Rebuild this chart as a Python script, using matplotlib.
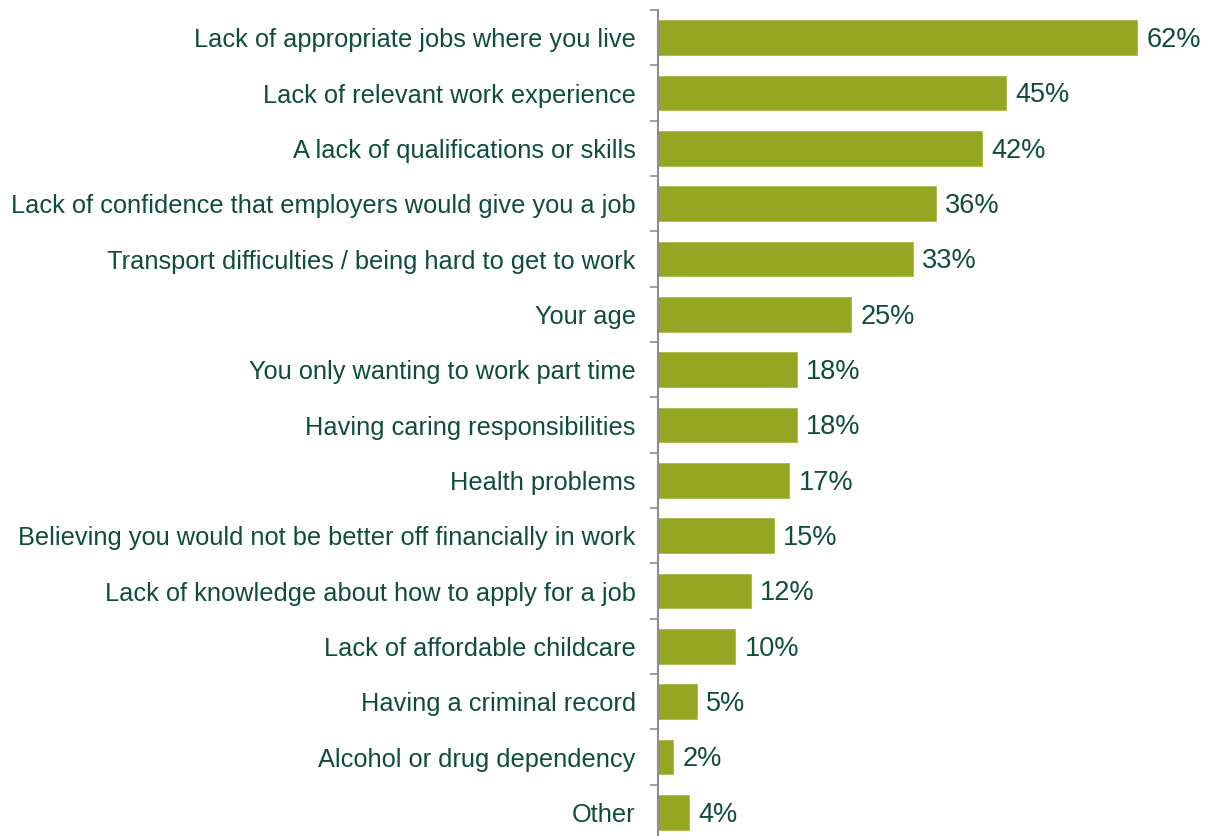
import numpy as np
import matplotlib.pyplot as plt

reasons = [
    "Lack of appropriate jobs where you live",
    "Lack of relevant work experience",
    "A lack of qualifications or skills",
    "Lack of confidence that employers would give you a job",
    "Transport difficulties / being hard to get to work",
    "Your age",
    "You only wanting to work part time",
    "Having caring responsibilities",
    "Health problems",
    "Believing you would not be better off financially in work",
    "Lack of knowledge about how to apply for a job",
    "Lack of affordable childcare",
    "Having a criminal record",
    "Alcohol or drug dependency",
    "Other",
]
share = [62, 45, 42, 36, 33, 25, 18, 18, 17, 15, 12, 10, 5, 2, 4]

bar_col = "#94A622"
txt_col = "#0E4D3C"

plt.rcParams["font.family"] = ["Liberation Sans", "DejaVu Sans"]

fig = plt.figure(figsize=(12.08, 8.36), dpi=100)
ax = fig.add_axes([658 / 1208, -4 / 836, 1 - 658 / 1208, 830 / 836])

n = len(reasons)
pos = np.arange(n)
ax.barh(pos, share, height=0.63, color=bar_col, edgecolor="#A9B84A", linewidth=0.6)
for p, v in zip(pos, share):
    ax.text(v + 1.2, p + 0.04, f"{v}%", va="center", ha="left", fontsize=19.5, color=txt_col)

ax.set_ylim(n - 0.5, -0.5)
ax.set_xlim(0, 71.2)

# boundaries get the tick marks, centres carry the labels
ax.set_yticks(np.arange(n + 1) - 0.5)
ax.set_yticklabels([])
ax.set_yticks(pos, minor=True)
ax.set_yticklabels(reasons, minor=True, fontsize=18.3, color=txt_col)
ax.tick_params(axis="y", which="major", length=6, width=1.2, color="#8C8C8C", direction="out")
ax.tick_params(axis="y", which="minor", length=0, pad=16)

ax.set_xticks([])
for s in ["top", "right", "bottom"]:
    ax.spines[s].set_visible(False)
ax.spines["left"].set_color("#8C8C8C")
ax.spines["left"].set_linewidth(1.5)

fig.savefig("out.png", dpi=100)
